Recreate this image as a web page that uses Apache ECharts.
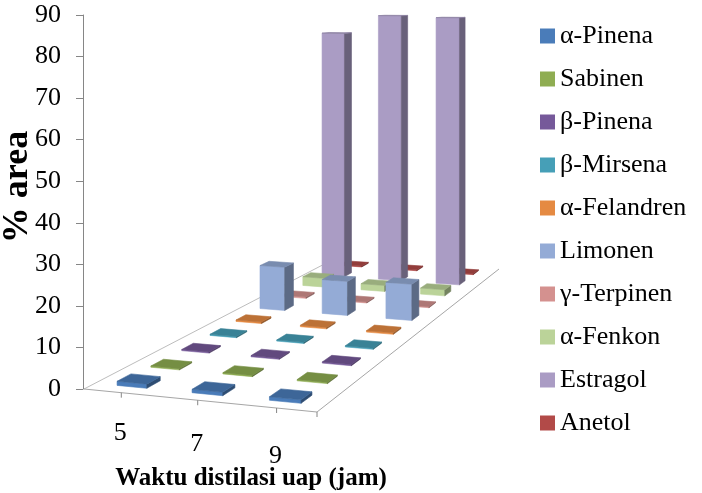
<!DOCTYPE html>
<html>
<head>
<meta charset="utf-8">
<script src="https://cdn.jsdelivr.net/npm/echarts@6/dist/echarts.min.js"></script>
<style>
  html, body { margin: 0; padding: 0; background: #ffffff; }
  #chart { width: 702px; height: 493px; }
</style>
</head>
<body>
<div id="chart"></div>
<script>
// ---- data -------------------------------------------------------------
const categories = ['5', '7', '9'];                 // distillation time (h)
const seriesNames = ['α-Pinena', 'Sabinen', 'β-Pinena', 'β-Mirsena', 'α-Felandren',
                     'Limonen', 'γ-Terpinen', 'α-Fenkon', 'Estragol', 'Anetol'];
const alphaPinena = [1.0, 0.8, 0.8];
const sabinen     = [0.3, 0.3, 0.3];
const betaPinena  = [0.3, 0.3, 0.3];
const betaMirsena = [0.3, 0.3, 0.3];
const alphaFeland = [0.4, 0.4, 0.4];
const limonen     = [12.9, 10.0, 10.5];
const gammaTerp   = [0.4, 0.3, 0.3];
const alphaFenkon = [2.8, 1.9, 1.9];
const estragol    = [81.0, 87.0, 86.5];
const anetol      = [0.3, 0.3, 0.3];
const seriesValues = [alphaPinena, sabinen, betaPinena, betaMirsena, alphaFeland,
                      limonen, gammaTerp, alphaFenkon, estragol, anetol];
const valueMin = 0, valueMax = 90, valueStep = 10;

// ---- styling ----------------------------------------------------------
const seriesColors = ['#4A7CB9', '#8FAD52', '#76599A', '#469FB7', '#E58A42',
                      '#94ABD6', '#D4918F', '#BBD399', '#AA9CC4', '#B24A48'];
const SERIF = '"Liberation Serif", "Times New Roman", "DejaVu Serif", serif';

// ---- 3D floor projection ---------------------------------------------
// Floor corners on screen: front-left, front-right, back-right, back-left.
const FLOOR = [[84, 389], [317, 412], [499, 269], [336, 258]];
const HORIZON_Y = -16;       // screen y of the horizon (camera looks level)
const GAP = 1.5;             // gap width / gap depth, as a fraction of a bar

function squareToQuad(p0, p1, p2, p3) {
  const [x0, y0] = p0, [x1, y1] = p1, [x2, y2] = p2, [x3, y3] = p3;
  const dx1 = x1 - x2, dx2 = x3 - x2, dx3 = x0 - x1 + x2 - x3;
  const dy1 = y1 - y2, dy2 = y3 - y2, dy3 = y0 - y1 + y2 - y3;
  const den = dx1 * dy2 - dx2 * dy1;
  const g = (dx3 * dy2 - dx2 * dy3) / den;
  const h = (dx1 * dy3 - dx3 * dy1) / den;
  const a = x1 - x0 + g * x1, b = x3 - x0 + h * x3, c = x0;
  const d = y1 - y0 + g * y1, e = y3 - y0 + h * y3, f = y0;
  return (u, v) => {
    const w = g * u + h * v + 1;
    return [(a * u + b * v + c) / w, (d * u + e * v + f) / w];
  };
}
const floorAt = squareToQuad(FLOOR[0], FLOOR[1], FLOOR[2], FLOOR[3]);

// Raise a floor point by a pixel height measured on the front value axis.
function lift(pt, pxAtFront, frontY) {
  const k = (pt[1] - HORIZON_Y) / (frontY - HORIZON_Y);
  return [pt[0], pt[1] - pxAtFront * k];
}

function shade(hex, f) {
  const n = parseInt(hex.slice(1), 16);
  const r = Math.round(((n >> 16) & 255) * f);
  const g = Math.round(((n >> 8) & 255) * f);
  const b = Math.round((n & 255) * f);
  return 'rgb(' + r + ',' + g + ',' + b + ')';
}

const nCat = categories.length, nRow = seriesNames.length;
const barFrac = 1 / (1 + GAP);

function barRenderer(row, color) {
  return function (params, api) {
    const ci = api.value(0);
    const val = api.value(1);
    const y0 = api.coord([ci, valueMin])[1];
    const hPx = y0 - api.coord([ci, val])[1];
    const frontY = api.coord([0, valueMin])[1];
    const u0 = (ci + (1 - barFrac) / 2) / nCat, u1 = (ci + (1 + barFrac) / 2) / nCat;
    const d0 = (row + (1 - barFrac) / 2) / nRow, d1 = (row + (1 + barFrac) / 2) / nRow;
    const A = floorAt(u0, d0), B = floorAt(u1, d0), C = floorAt(u1, d1), D = floorAt(u0, d1);
    const At = lift(A, hPx, frontY), Bt = lift(B, hPx, frontY),
          Ct = lift(C, hPx, frontY), Dt = lift(D, hPx, frontY);
    const face = (pts, fill) => ({
      type: 'polygon', shape: { points: pts },
      style: { fill: fill, stroke: fill, lineWidth: 0.6 }
    });
    return {
      type: 'group',
      children: [
        face([A, B, Bt, At], color),
        face([B, C, Ct, Bt], shade(color, 0.62)),
        face([At, Bt, Ct, Dt], shade(color, 0.82))
      ]
    };
  };
}

function axisRenderer(params, api) {
  const ci = api.value(0);
  const uc = (ci + 0.5) / nCat;
  const p = floorAt(uc, 0);
  const children = [
    { type: 'line', shape: { x1: p[0], y1: p[1], x2: p[0], y2: p[1] + 5 },
      style: { stroke: '#868686', lineWidth: 1 } },
    { type: 'text',
      style: { text: categories[ci], x: p[0] - 1, y: p[1] + 39 + uc * 10.5,
               fill: '#000', font: '26px ' + SERIF, align: 'center', verticalAlign: 'middle' } }
  ];
  if (params.dataIndex === 0) {
    const fl = floorAt(0, 0), fr = floorAt(1, 0), br = floorAt(1, 1), bl = floorAt(0, 1);
    children.unshift(
      { type: 'line', shape: { x1: fl[0], y1: fl[1], x2: bl[0], y2: bl[1] },
        style: { stroke: '#BDBDBD', lineWidth: 1 } },
      { type: 'line', shape: { x1: fr[0], y1: fr[1], x2: br[0], y2: br[1] },
        style: { stroke: '#A6A6A6', lineWidth: 1 } },
      { type: 'line', shape: { x1: fl[0], y1: fl[1], x2: fr[0], y2: fr[1] },
        style: { stroke: '#A6A6A6', lineWidth: 1 } },
      { type: 'line', shape: { x1: fr[0], y1: fr[1], x2: fr[0], y2: fr[1] + 5 },
        style: { stroke: '#868686', lineWidth: 1 } }
    );
  }
  return { type: 'group', children: children };
}

const series = [{
  name: 'floor', type: 'custom', clip: false, silent: true, z: 5,
  renderItem: axisRenderer,
  encode: { x: 0, y: 1 },
  data: categories.map((c, i) => [i, valueMin])
}];
seriesNames.forEach((name, row) => {
  series.push({
    name: name, type: 'custom', clip: false, silent: true,
    z: 30 - row,
    itemStyle: { color: seriesColors[row] },
    renderItem: barRenderer(row, seriesColors[row]),
    encode: { x: 0, y: 1 },
    data: seriesValues[row].map((v, i) => [i, v])
  });
});

const chart = echarts.init(document.getElementById('chart'), null, { renderer: 'canvas' });
chart.setOption({
  animation: false,
  backgroundColor: '#ffffff',
  grid: { left: 83, top: 15, bottom: 104, right: 385 },
  xAxis: { type: 'category', data: categories, show: false },
  yAxis: {
    type: 'value', min: valueMin, max: valueMax, interval: valueStep,
    splitLine: { show: false },
    axisLine: { show: true, lineStyle: { color: '#868686', width: 1 } },
    axisTick: { show: true, length: 7, lineStyle: { color: '#868686' } },
    axisLabel: { color: '#000', fontSize: 26, fontFamily: SERIF, margin: 22 }
  },
  legend: {
    orient: 'vertical', left: 540, top: 22, padding: 0,
    itemWidth: 15, itemHeight: 15, itemGap: 15, icon: 'rect',
    selectedMode: false,
    data: seriesNames,
    textStyle: { color: '#000', fontSize: 26, fontFamily: SERIF, lineHeight: 28 }
  },
  graphic: [
    { type: 'text', x: 18, y: 187, rotation: Math.PI / 2,
      style: { text: '% area', fill: '#000', font: 'bold 36px ' + SERIF,
               align: 'center', verticalAlign: 'middle' } },
    { type: 'text', x: 251, y: 479,
      style: { text: 'Waktu distilasi uap (jam)', fill: '#000', font: 'bold 25px ' + SERIF,
               align: 'center', verticalAlign: 'middle' } }
  ],
  series: series
});
</script>
</body>
</html>
